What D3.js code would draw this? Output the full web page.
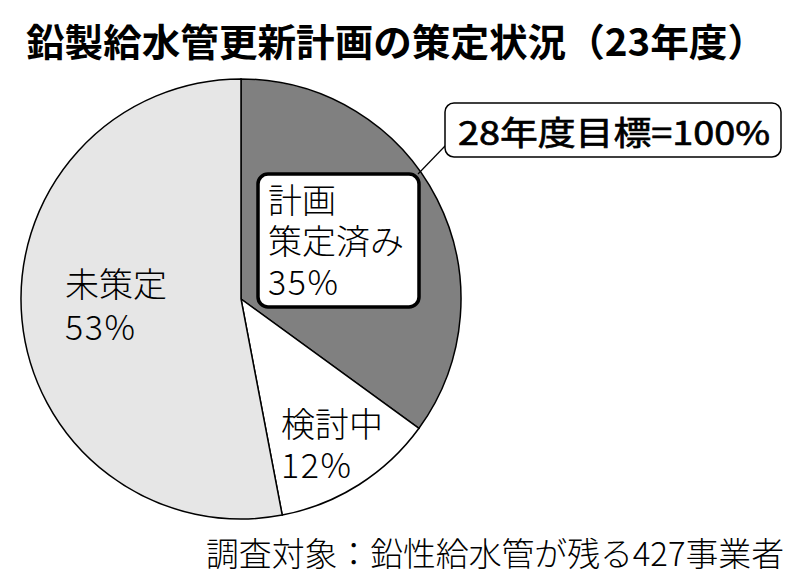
<!DOCTYPE html>
<html>
<head>
<meta charset="utf-8">
<script src="https://cdn.jsdelivr.net/npm/d3@7"></script>
<style>
  body { margin: 0; background: #fff; }
  svg { display: block; font-family: "Noto Sans CJK JP", sans-serif; }
</style>
</head>
<body>
<svg id="chart" width="800" height="586"></svg>
<script>
// data
var categories = ["計画策定済み", "検討中", "未策定"];
var values = [35, 12, 53];
var labelLines = [["計画", "策定済み"], ["検討中"], ["未策定"]];
var pctLabels = ["35%", "12%", "53%"];
var colors = ["#808080", "#ffffff", "#e6e6e6"];
var title = "鉛製給水管更新計画の策定状況（23年度）";
var target = "28年度目標=100%";
var note = "調査対象：鉛性給水管が残る427事業者";

var cx = 241, cy = 299, r = 220;
// label anchors (left x, first baseline, line step) per slice
var labelAt = [[268, 213, 41], [281, 437, 41], [65, 297, 43]];

var svg = d3.select("#chart");

// title
svg.append("text")
    .attr("x", 26)
    .attr("y", 56)
    .attr("font-size", 38)
    .attr("font-weight", 700)
    .attr("textLength", 740)
    .attr("lengthAdjust", "spacingAndGlyphs")
    .text(title);

var pie = d3.pie().sort(null)(values);
var arc = d3.arc().innerRadius(0).outerRadius(r);

var g = svg.append("g").attr("transform", "translate(" + cx + "," + cy + ")");
g.selectAll("path")
    .data(pie)
    .enter().append("path")
    .attr("d", arc)
    .attr("fill", function (d, i) { return colors[i]; })
    .attr("stroke", "#000")
    .attr("stroke-width", 1.5);

// leader line to target box
svg.append("line")
    .attr("x1", 418).attr("y1", 174)
    .attr("x2", 446).attr("y2", 145)
    .attr("stroke", "#000").attr("stroke-width", 1.2);

// box behind the 35% label
svg.append("rect")
    .attr("x", 258).attr("y", 174)
    .attr("width", 161).attr("height", 133)
    .attr("rx", 10)
    .attr("fill", "#fff")
    .attr("stroke", "#000")
    .attr("stroke-width", 3.5);

// target box
svg.append("rect")
    .attr("x", 445).attr("y", 103)
    .attr("width", 336).attr("height", 54)
    .attr("rx", 9)
    .attr("fill", "#fff")
    .attr("stroke", "#000")
    .attr("stroke-width", 1.5);
svg.append("text")
    .attr("x", 458).attr("y", 145)
    .attr("font-size", 33)
    .attr("font-weight", 400)
    .attr("stroke", "#000")
    .attr("stroke-width", 0.7)
    .attr("textLength", 312)
    .attr("lengthAdjust", "spacingAndGlyphs")
    .text(target);

// slice labels, one text per line
labelLines.forEach(function (lines, i) {
    var a = labelAt[i];
    lines.forEach(function (s, j) {
        svg.append("text")
            .attr("x", a[0])
            .attr("y", a[1] + j * a[2])
            .attr("font-size", 34)
            .attr("font-weight", 300)
            .text(s);
    });
    svg.append("text")
        .attr("x", a[0])
        .attr("y", a[1] + lines.length * a[2])
        .attr("font-size", 34)
        .attr("font-weight", 300)
        .attr("letter-spacing", 1.5)
        .text(pctLabels[i]);
});

// footnote
svg.append("text")
    .attr("x", 206).attr("y", 566)
    .attr("font-size", 33)
    .attr("font-weight", 300)
    .attr("textLength", 578)
    .attr("lengthAdjust", "spacingAndGlyphs")
    .text(note);
</script>
</body>
</html>
